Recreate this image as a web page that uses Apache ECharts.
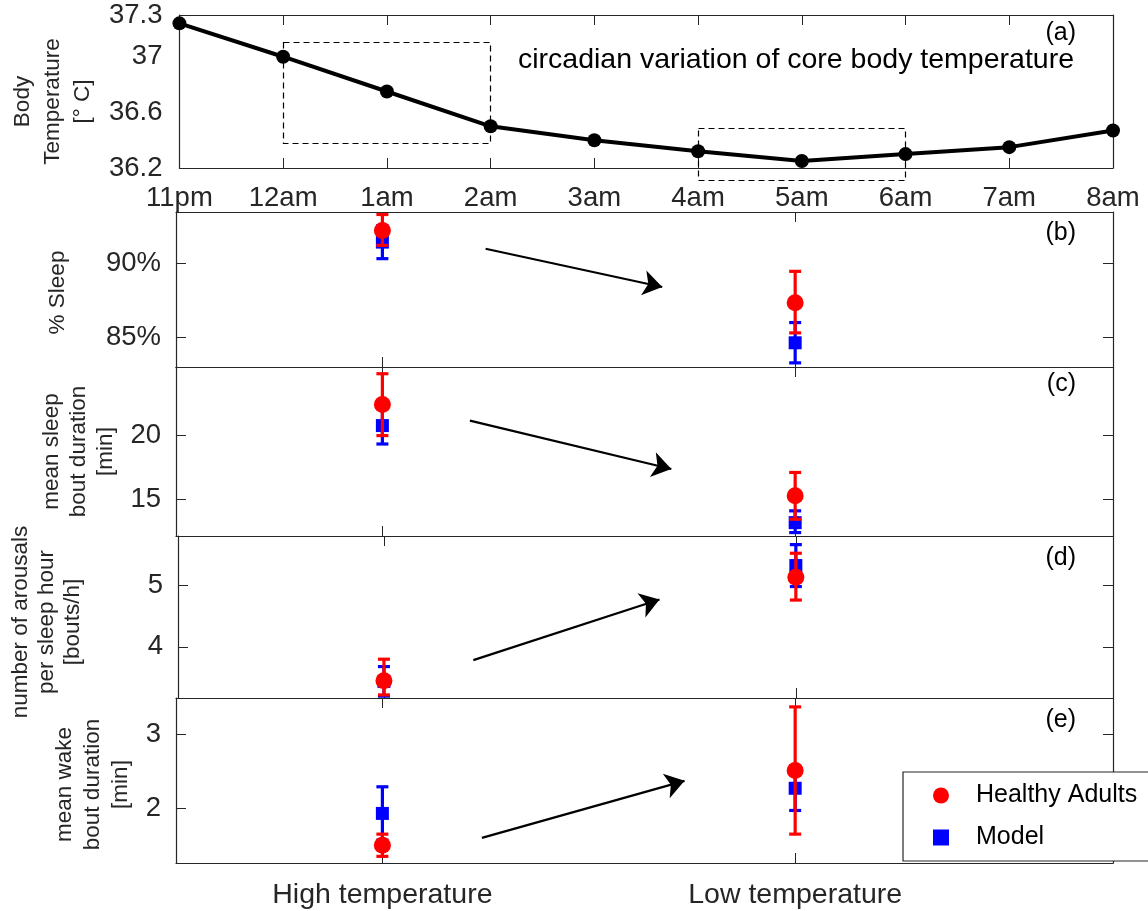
<!DOCTYPE html>
<html><head><meta charset="utf-8">
<script src="https://cdn.jsdelivr.net/npm/echarts@6/dist/echarts.min.js"></script>
<style>html,body{margin:0;padding:0;background:#fff}#chart{width:1148px;height:911px}</style>
</head><body><div id="chart"></div>
<script>
// ---------- data ----------
const hours = ['11pm','12am','1am','2am','3am','4am','5am','6am','7am','8am'];
const bodyTemp = [37.24, 37.0, 36.75, 36.5, 36.4, 36.32, 36.25, 36.3, 36.35, 36.47];
const tempLabels = [36.2, 36.6, 37, 37.3];
const tempTicks = [36.2, 36.6, 37];
const windowStart = ['12am', '4am'];
const windowEnd = ['2am', '6am'];
const windowLow = [36.38, 36.114];
const windowHigh = [37.105, 36.49];

const conditions = ['High temperature', 'Low temperature'];
const conditionPos = [1, 2];

// (b) % Sleep
const sleepPctHealthy = [92.25, 87.36];
const sleepPctHealthyLow = [91.24, 85.31];
const sleepPctHealthyHigh = [93.33, 89.48];
const sleepPctModel = [91.46, 84.64];
const sleepPctModelLow = [90.34, 83.28];
const sleepPctModelHigh = [92.58, 86.01];
const sleepPctTicks = [85, 90];

// (c) mean sleep bout duration [min]
const sleepBoutHealthy = [22.45, 15.26];
const sleepBoutHealthyLow = [20.0, 13.42];
const sleepBoutHealthyHigh = [24.87, 17.1];
const sleepBoutModel = [20.79, 13.15];
const sleepBoutModelLow = [19.34, 12.37];
const sleepBoutModelHigh = [22.24, 14.08];
const sleepBoutTicks = [15, 20];

// (d) number of arousals per sleep hour [bouts/h]
const arousalHealthy = [3.45, 5.13];
const arousalHealthyLow = [3.22, 4.76];
const arousalHealthyHigh = [3.80, 5.52];
const arousalModel = [3.44, 5.32];
const arousalModelLow = [3.20, 4.98];
const arousalModelHigh = [3.68, 5.66];
const arousalTicks = [4, 5];

// (e) mean wake bout duration [min]
const wakeBoutHealthy = [1.50, 2.51];
const wakeBoutHealthyLow = [1.35, 1.65];
const wakeBoutHealthyHigh = [1.65, 3.37];
const wakeBoutModel = [1.93, 2.27];
const wakeBoutModelLow = [1.57, 1.97];
const wakeBoutModelHigh = [2.29, 2.57];
const wakeBoutTicks = [2, 3];

// trend arrows (data coordinates: [condition position, value])
const arrowFrom = [[1.25, 91.01], [1.212, 21.18], [1.217, 3.785], [1.241, 1.60]];
const arrowTo = [[1.678, 88.42], [1.70, 17.37], [1.669, 4.77], [1.732, 2.37]];

// ---------- layout / styling ----------
const FONT = 'Liberation Sans, Arial, Helvetica, sans-serif';
const AX = '#262626';
const grids = [
  {left: 176, right: 35, top: 15, height: 153},
  {left: 176, right: 35, top: 212, height: 155},
  {left: 176, right: 35, top: 367, height: 169},
  {left: 176, right: 35, top: 536, height: 162},
  {left: 176, right: 35, top: 698, height: 165}
];

const panels = [
  {h: sleepPctHealthy, hl: sleepPctHealthyLow, hh: sleepPctHealthyHigh,
   m: sleepPctModel, ml: sleepPctModelLow, mh: sleepPctModelHigh,
   min: 83, max: 93.5, ticks: sleepPctTicks, fmt: v => v + '%',
   name: '% Sleep', nameGap: 104, lineHeight: 28, pad: [0, 6, 0, 0]},
  {h: sleepBoutHealthy, hl: sleepBoutHealthyLow, hh: sleepBoutHealthyHigh,
   m: sleepBoutModel, ml: sleepBoutModelLow, mh: sleepBoutModelHigh,
   min: 12.1, max: 25.4, ticks: sleepBoutTicks, fmt: v => String(v),
   name: 'mean sleep\nbout duration\n[min]', nameGap: 50, lineHeight: 27, pad: [0, 0, 0, 0]},
  {h: arousalHealthy, hl: arousalHealthyLow, hh: arousalHealthyHigh,
   m: arousalModel, ml: arousalModelLow, mh: arousalModelHigh,
   min: 3.17, max: 5.8, ticks: arousalTicks, fmt: v => String(v),
   name: 'number of arousals\nper sleep hour\n[bouts/h]', nameGap: 92, lineHeight: 26, pad: [0, 10, 0, 0]},
  {h: wakeBoutHealthy, hl: wakeBoutHealthyLow, hh: wakeBoutHealthyHigh,
   m: wakeBoutModel, ml: wakeBoutModelLow, mh: wakeBoutModelHigh,
   min: 1.26, max: 3.49, ticks: wakeBoutTicks, fmt: v => String(v),
   name: 'mean wake\nbout duration\n[min]', nameGap: 34, lineHeight: 28, pad: [0, 8, 0, 0]}
];

const tickStyle = {inside: true, length: 10, lineStyle: {color: AX, width: 1}};
const lineStyleAx = {show: true, onZero: false, lineStyle: {color: AX, width: 1.2}};
const labelStyle = {color: AX, fontSize: 27.5, fontFamily: FONT};
const nameStyle = {fontSize: 22.5, fontFamily: FONT, color: AX};

const xAxis = [], yAxis = [], series = [];

// panel (a)
xAxis.push({gridIndex: 0, type: 'category', data: hours, boundaryGap: false, position: 'bottom',
  axisLine: lineStyleAx, axisTick: Object.assign({alignWithLabel: true}, tickStyle),
  axisLabel: Object.assign({margin: 16, interval: 0}, labelStyle), splitLine: {show: false}});
xAxis.push({gridIndex: 0, type: 'category', data: hours, boundaryGap: false, position: 'top',
  axisLine: lineStyleAx, axisTick: tickStyle, axisLabel: {show: false}, splitLine: {show: false}});
yAxis.push({gridIndex: 0, type: 'value', min: 36.2, max: 37.3, position: 'left',
  axisLine: lineStyleAx, axisTick: Object.assign({customValues: tempTicks}, tickStyle),
  axisLabel: Object.assign({customValues: tempLabels, margin: 17, formatter: v => String(+v.toFixed(1))}, labelStyle),
  splitLine: {show: false},
  name: 'Body\nTemperature\n[° C]', nameLocation: 'middle', nameRotate: 90, nameGap: 79,
  nameTextStyle: Object.assign({lineHeight: 30, padding: [0, 20, 0, 0]}, nameStyle)});
yAxis.push({gridIndex: 0, type: 'value', min: 36.2, max: 37.3, position: 'right',
  axisLine: lineStyleAx, axisTick: Object.assign({customValues: tempTicks}, tickStyle),
  axisLabel: {show: false}, splitLine: {show: false}});

series.push({type: 'line', name: 'Body temperature', xAxisIndex: 0, yAxisIndex: 0, data: bodyTemp,
  symbol: 'circle', symbolSize: 14, lineStyle: {color: '#000', width: 4},
  itemStyle: {color: '#000'}, z: 4, silent: true});
series.push({type: 'custom', name: 'windows', xAxisIndex: 0, yAxisIndex: 0, clip: false, z: 3, silent: true,
  encode: {x: [0, 2], y: [1, 3]},
  data: windowStart.map((s, i) => [hours.indexOf(s), windowLow[i], hours.indexOf(windowEnd[i]), windowHigh[i]]),
  renderItem: (params, api) => {
    const p0 = api.coord([api.value(0), api.value(3)]);
    const p1 = api.coord([api.value(2), api.value(1)]);
    return {type: 'rect', shape: {x: Math.round(p0[0]) + 0.5, y: Math.round(p0[1]) + 0.5,
        width: Math.round(p1[0] - p0[0]), height: Math.round(p1[1] - p0[1])},
      style: {fill: null, stroke: '#000', lineWidth: 1.2, lineDash: [6, 4]}};
  }});

function errorBarRender(color) {
  return function (params, api) {
    const x = api.value(0), lo = api.value(1), hi = api.value(2);
    const a = api.coord([x, lo]), b = api.coord([x, hi]);
    const hw = 6;
    const st = {stroke: color, lineWidth: 3.2, fill: null};
    return {type: 'group', children: [
      {type: 'line', shape: {x1: a[0], y1: a[1], x2: b[0], y2: b[1]}, style: st},
      {type: 'line', shape: {x1: a[0] - hw, y1: a[1], x2: a[0] + hw, y2: a[1]}, style: st},
      {type: 'line', shape: {x1: b[0] - hw, y1: b[1], x2: b[0] + hw, y2: b[1]}, style: st}
    ]};
  };
}

panels.forEach((p, k) => {
  const g = k + 1;
  const last = k === panels.length - 1;
  xAxis.push({gridIndex: g, type: 'value', min: 0.5, max: 2.77, position: 'bottom',
    axisLine: lineStyleAx, axisTick: Object.assign({customValues: conditionPos}, tickStyle),
    axisLabel: last ? Object.assign({customValues: conditionPos, margin: 18,
      formatter: v => conditions[conditionPos.indexOf(v)]}, labelStyle, {fontSize: 28.5}) : {show: false},
    splitLine: {show: false}});
  xAxis.push({gridIndex: g, type: 'value', min: 0.5, max: 2.77, position: 'top',
    axisLine: lineStyleAx, axisTick: Object.assign({customValues: conditionPos}, tickStyle),
    axisLabel: {show: false}, splitLine: {show: false}});
  yAxis.push({gridIndex: g, type: 'value', min: p.min, max: p.max, position: 'left',
    axisLine: lineStyleAx, axisTick: Object.assign({customValues: p.ticks}, tickStyle),
    axisLabel: Object.assign({customValues: p.ticks, margin: 15, formatter: p.fmt}, labelStyle),
    splitLine: {show: false},
    name: p.name, nameLocation: 'middle', nameRotate: 90, nameGap: p.nameGap,
    nameTextStyle: Object.assign({lineHeight: p.lineHeight, padding: p.pad}, nameStyle)});
  yAxis.push({gridIndex: g, type: 'value', min: p.min, max: p.max, position: 'right',
    axisLine: lineStyleAx, axisTick: Object.assign({customValues: p.ticks}, tickStyle),
    axisLabel: {show: false}, splitLine: {show: false}});
  const xi = 2 * g, yi = 2 * g;
  series.push({type: 'custom', name: 'Model error', xAxisIndex: xi, yAxisIndex: yi, z: 3, clip: false, silent: true,
    encode: {x: 0, y: [1, 2]}, data: conditionPos.map((c, i) => [c, p.ml[i], p.mh[i]]),
    renderItem: errorBarRender('#0000ff')});
  series.push({type: 'scatter', name: 'Model', xAxisIndex: xi, yAxisIndex: yi, z: 4, silent: true,
    symbol: 'rect', symbolSize: 13, itemStyle: {color: '#0000ff', opacity: 1},
    data: conditionPos.map((c, i) => [c, p.m[i]])});
  series.push({type: 'custom', name: 'Healthy error', xAxisIndex: xi, yAxisIndex: yi, z: 5, clip: false, silent: true,
    encode: {x: 0, y: [1, 2]}, data: conditionPos.map((c, i) => [c, p.hl[i], p.hh[i]]),
    renderItem: errorBarRender('#ff0000')});
  series.push({type: 'scatter', name: 'Healthy Adults', xAxisIndex: xi, yAxisIndex: yi, z: 6, silent: true,
    symbol: 'circle', symbolSize: 17, itemStyle: {color: '#ff0000', opacity: 1},
    data: conditionPos.map((c, i) => [c, p.h[i]]),
    markLine: {silent: true, symbol: ['none', 'arrow'], symbolSize: 19, animation: false,
      label: {show: false}, lineStyle: {color: '#000', width: 2.2, type: 'solid'},
      emphasis: {disabled: true},
      data: [[{coord: arrowFrom[k]}, {coord: arrowTo[k]}]]}});
});

const tags = ['(a)', '(b)', '(c)', '(d)', '(e)'];
const tagY = [35, 235, 386, 560, 722];

const option = {
  animation: false,
  backgroundColor: '#fff',
  grid: grids,
  xAxis: xAxis,
  yAxis: yAxis,
  series: series,
  legend: {
    data: [{name: 'Healthy Adults', icon: 'circle'}, {name: 'Model', icon: 'rect'}],
    orient: 'vertical', left: 903, top: 772, itemWidth: 16, itemHeight: 16, itemGap: 17,
    padding: [11, 20, 11, 30], borderColor: AX, borderWidth: 1.2, backgroundColor: '#fff',
    selectedMode: false,
    textStyle: {fontSize: 25, fontFamily: FONT, color: '#000', padding: [0, 0, 0, 22]}
  },
  graphic: tags.map((t, i) => ({type: 'text', right: 1148 - 1076, top: tagY[i] - 14, z: 10,
    style: {text: t, fontSize: 25, fontFamily: FONT, fill: '#000'}})).concat([
    {type: 'text', right: 1148 - 1074, top: 63 - 17, z: 10,
     style: {text: 'circadian variation of core body temperature', fontSize: 28.5, fontFamily: FONT, fill: '#000'}}
  ])
};

const chart = echarts.init(document.getElementById('chart'), null, {renderer: 'canvas'});
chart.setOption(option);
</script>
</body></html>
